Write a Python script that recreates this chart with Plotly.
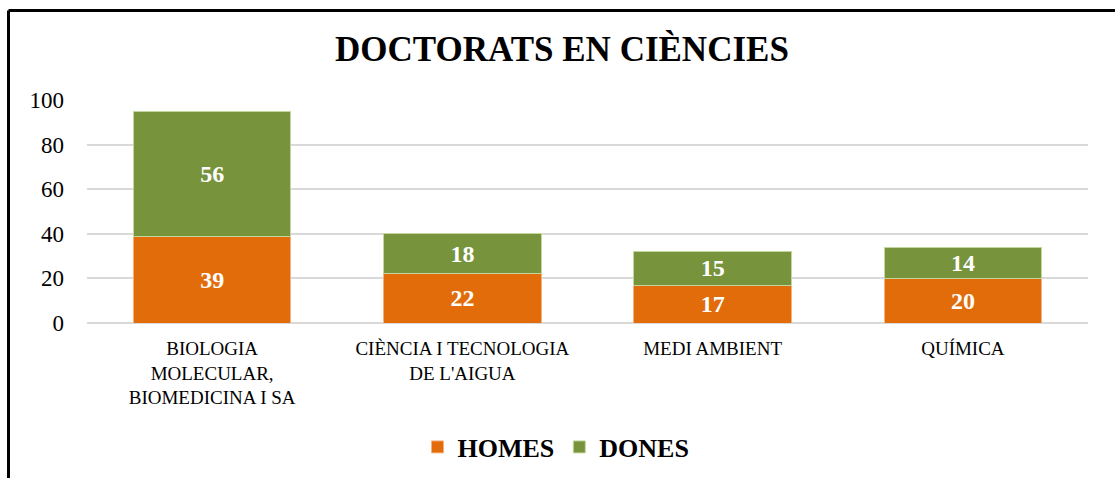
import plotly.graph_objects as go

# Doctoral degrees in sciences, by programme and sex
categories = [
    "BIOLOGIA<br>MOLECULAR,<br>BIOMEDICINA I SA",
    "CIÈNCIA I TECNOLOGIA<br>DE L'AIGUA",
    "MEDI AMBIENT",
    "QUÍMICA",
]
homes = [39, 22, 17, 20]
dones = [56, 18, 15, 14]
y_ticks = [0, 20, 40, 60, 80, 100]

W, H = 1115, 478
L, R, T, B = 87, 27, 100, 155
pw, ph = W - L - R, H - T - B


def px_x(x):
    return (x - L) / pw


def px_y(y):
    return (H - B - y) / ph


serif = "Liberation Serif"
label_font = dict(family=serif, size=24, color="white")

fig = go.Figure()
fig.add_trace(go.Bar(
    name="<b>HOMES</b>", x=categories, y=homes,
    marker=dict(color="#E36C0A", line=dict(color="#F4B183", width=1)),
    text=[f"<b>{v}</b>" for v in homes], textposition="inside", textangle=0,
    insidetextanchor="middle", textfont=label_font,
))
fig.add_trace(go.Bar(
    name="<b>DONES</b>", x=categories, y=dones,
    marker=dict(color="#77933C", line=dict(color="#C3D69B", width=1)),
    text=[f"<b>{v}</b>" for v in dones], textposition="inside", textangle=0,
    insidetextanchor="middle", textfont=label_font,
))

# chart frame (left and top edges)
frame = dict(color="black", width=3)
fig.add_shape(type="line", xref="paper", yref="paper",
              x0=px_x(8.5), x1=px_x(1125), y0=px_y(10.5), y1=px_y(10.5), line=frame)
fig.add_shape(type="line", xref="paper", yref="paper",
              x0=px_x(8.5), x1=px_x(8.5), y0=px_y(10.5), y1=px_y(490), line=frame)

fig.update_layout(
    width=W, height=H,
    margin=dict(l=L, r=R, t=T, b=B, autoexpand=False),
    barmode="stack", bargap=0.37,
    plot_bgcolor="white", paper_bgcolor="white",
    uniformtext=dict(minsize=24, mode="show"),
    title=dict(text="<b>DOCTORATS EN CIÈNCIES</b>", x=0.504, xanchor="center",
               y=1 - 49 / H, yanchor="middle",
               font=dict(family=serif, size=35, color="black")),
    xaxis=dict(showline=False, ticks="", automargin=False,
               tickfont=dict(family=serif, size=19, color="black"),
               ticklabelstandoff=12),
    yaxis=dict(range=[0, 100], tickvals=y_ticks, showgrid=True, gridcolor="#D9D9D9",
               gridwidth=1.5, zeroline=True, zerolinecolor="#D9D9D9", zerolinewidth=1.5,
               showline=False, ticks="", ticklabelstandoff=22, automargin=False,
               tickfont=dict(family=serif, size=23, color="black")),
    legend=dict(orientation="h", x=px_x(556), xanchor="center", y=px_y(447),
                yanchor="middle", font=dict(family=serif, size=26, color="black"),
                itemwidth=30, traceorder="normal"),
    showlegend=True,
)

fig.write_html("out.html")
